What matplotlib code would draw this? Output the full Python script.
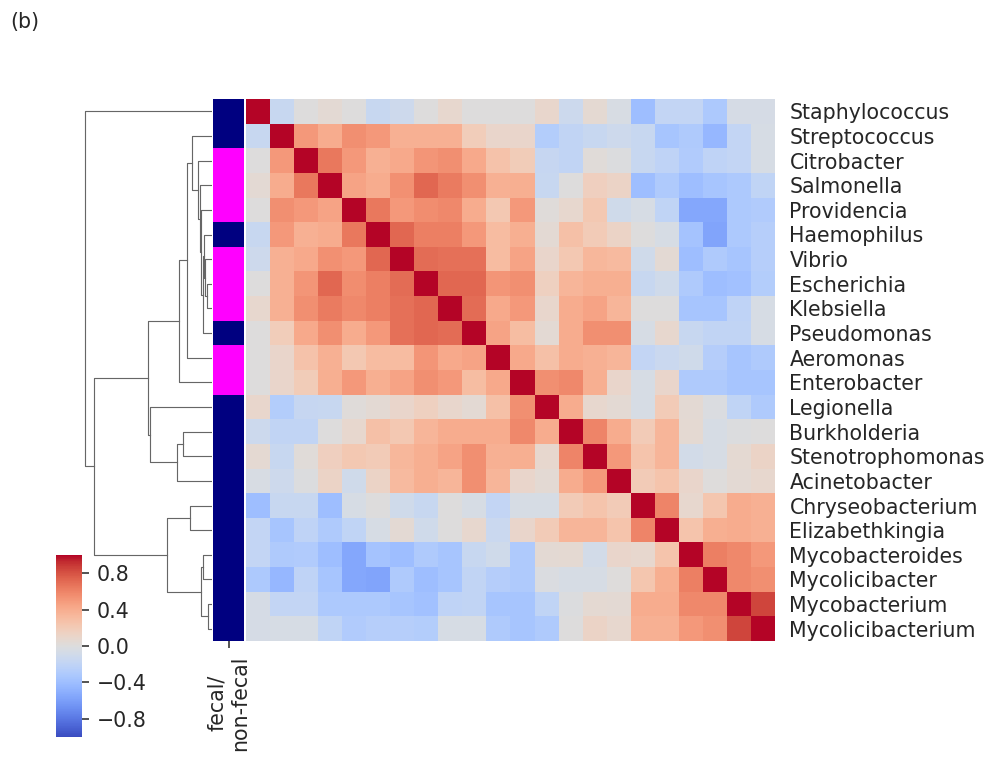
import numpy as np
import matplotlib
matplotlib.use('Agg')
from matplotlib import pyplot as plt
from matplotlib.colors import ListedColormap

genera = ['Staphylococcus', 'Streptococcus', 'Citrobacter', 'Salmonella',
          'Providencia', 'Haemophilus', 'Vibrio', 'Escherichia', 'Klebsiella',
          'Pseudomonas', 'Aeromonas', 'Enterobacter', 'Legionella',
          'Burkholderia', 'Stenotrophomonas', 'Acinetobacter',
          'Chryseobacterium', 'Elizabethkingia', 'Mycobacteroides',
          'Mycolicibacter', 'Mycobacterium', 'Mycolicibacterium']

# 1 = fecal, 0 = non-fecal
fecal = [0, 0, 1, 1, 1, 0, 1, 1, 1, 0, 1, 1, 0, 0, 0, 0, 0, 0, 0, 0, 0, 0]

# correlation matrix, already in clustered order
corr = np.array([
    [1.00, -0.15, 0.00, 0.05, 0.00, -0.15, -0.11, 0.00, 0.08, 0.00, 0.00, 0.00, 0.09, -0.12, 0.06, -0.04, -0.40, -0.18, -0.18, -0.32, -0.06, -0.06],
    [-0.15, 1.00, 0.50, 0.40, 0.55, 0.50, 0.38, 0.38, 0.38, 0.18, 0.10, 0.10, -0.28, -0.19, -0.15, -0.11, -0.15, -0.35, -0.30, -0.45, -0.18, -0.05],
    [0.00, 0.50, 1.00, 0.65, 0.50, 0.38, 0.42, 0.52, 0.55, 0.42, 0.26, 0.19, -0.16, -0.19, 0.03, -0.01, -0.15, -0.21, -0.29, -0.21, -0.18, -0.05],
    [0.05, 0.40, 0.65, 1.00, 0.45, 0.40, 0.54, 0.72, 0.64, 0.55, 0.38, 0.39, -0.15, 0.00, 0.16, 0.12, -0.40, -0.30, -0.40, -0.35, -0.32, -0.20],
    [0.00, 0.55, 0.50, 0.45, 1.00, 0.65, 0.50, 0.56, 0.58, 0.40, 0.22, 0.50, 0.02, 0.08, 0.22, -0.10, -0.05, -0.20, -0.55, -0.55, -0.32, -0.29],
    [-0.15, 0.50, 0.38, 0.40, 0.65, 1.00, 0.72, 0.62, 0.62, 0.50, 0.31, 0.39, 0.05, 0.28, 0.20, 0.12, 0.00, -0.05, -0.36, -0.57, -0.32, -0.26],
    [-0.11, 0.38, 0.42, 0.54, 0.50, 0.72, 1.00, 0.70, 0.68, 0.68, 0.31, 0.45, 0.10, 0.22, 0.34, 0.32, -0.10, 0.05, -0.40, -0.30, -0.35, -0.26],
    [0.00, 0.38, 0.52, 0.72, 0.56, 0.62, 0.70, 1.00, 0.72, 0.72, 0.52, 0.55, 0.15, 0.35, 0.39, 0.39, -0.15, -0.10, -0.30, -0.40, -0.38, -0.28],
    [0.08, 0.38, 0.55, 0.64, 0.58, 0.62, 0.68, 0.72, 1.00, 0.70, 0.42, 0.50, 0.09, 0.40, 0.45, 0.35, 0.00, 0.00, -0.35, -0.35, -0.21, -0.05],
    [0.00, 0.18, 0.42, 0.55, 0.40, 0.50, 0.68, 0.72, 0.70, 1.00, 0.45, 0.30, 0.05, 0.40, 0.55, 0.55, -0.05, 0.08, -0.15, -0.19, -0.19, -0.05],
    [0.00, 0.10, 0.26, 0.38, 0.22, 0.31, 0.31, 0.52, 0.42, 0.45, 1.00, 0.42, 0.28, 0.40, 0.38, 0.35, -0.18, -0.14, -0.10, -0.27, -0.35, -0.30],
    [0.00, 0.10, 0.19, 0.39, 0.50, 0.39, 0.45, 0.55, 0.50, 0.30, 0.42, 1.00, 0.55, 0.58, 0.39, 0.10, -0.05, 0.10, -0.30, -0.30, -0.35, -0.35],
    [0.09, -0.28, -0.16, -0.15, 0.02, 0.05, 0.10, 0.15, 0.09, 0.05, 0.28, 0.55, 1.00, 0.40, 0.08, 0.05, -0.05, 0.20, 0.05, -0.02, -0.20, -0.30],
    [-0.12, -0.19, -0.19, 0.00, 0.08, 0.28, 0.22, 0.35, 0.40, 0.40, 0.40, 0.58, 0.40, 1.00, 0.60, 0.40, 0.20, 0.35, 0.06, -0.05, -0.01, 0.00],
    [0.06, -0.15, 0.03, 0.16, 0.22, 0.20, 0.34, 0.39, 0.45, 0.55, 0.38, 0.39, 0.08, 0.60, 1.00, 0.50, 0.25, 0.35, -0.08, -0.05, 0.06, 0.12],
    [-0.04, -0.11, -0.01, 0.12, -0.10, 0.12, 0.32, 0.39, 0.35, 0.55, 0.35, 0.10, 0.05, 0.40, 0.50, 1.00, 0.20, 0.25, 0.10, 0.01, 0.05, 0.08],
    [-0.40, -0.15, -0.15, -0.40, -0.05, 0.00, -0.10, -0.15, 0.00, -0.05, -0.18, -0.05, -0.05, 0.20, 0.25, 0.20, 1.00, 0.60, 0.08, 0.24, 0.40, 0.38],
    [-0.18, -0.35, -0.21, -0.30, -0.20, -0.05, 0.05, -0.10, 0.00, 0.08, -0.14, 0.10, 0.20, 0.35, 0.35, 0.25, 0.60, 1.00, 0.25, 0.39, 0.40, 0.38],
    [-0.18, -0.30, -0.29, -0.40, -0.55, -0.36, -0.40, -0.30, -0.35, -0.15, -0.10, -0.30, 0.05, 0.06, -0.08, 0.10, 0.08, 0.25, 1.00, 0.62, 0.58, 0.50],
    [-0.32, -0.45, -0.21, -0.35, -0.55, -0.57, -0.30, -0.40, -0.35, -0.19, -0.27, -0.30, -0.02, -0.05, -0.05, 0.01, 0.24, 0.39, 0.62, 1.00, 0.58, 0.55],
    [-0.06, -0.18, -0.18, -0.32, -0.32, -0.32, -0.35, -0.38, -0.21, -0.19, -0.35, -0.35, -0.20, -0.01, 0.06, 0.05, 0.40, 0.40, 0.58, 0.58, 1.00, 0.85],
    [-0.06, -0.05, -0.05, -0.20, -0.29, -0.26, -0.26, -0.28, -0.05, -0.05, -0.30, -0.35, -0.30, 0.00, 0.12, 0.08, 0.38, 0.38, 0.50, 0.55, 0.85, 1.00],
])

# row linkage (scipy style): leaves 0..21, merged clusters numbered from 22
link_left = [7, 6, 5, 24, 4, 3, 2, 1, 29, 30, 13, 32, 12, 31, 16, 18, 20, 37, 36, 35, 0]
link_right = [8, 22, 23, 9, 25, 26, 27, 28, 10, 11, 14, 15, 33, 34, 17, 19, 21, 38, 39, 40, 41]
link_height = [0.053, 0.065, 0.077, 0.093, 0.105, 0.120, 0.137, 0.203, 0.253, 0.327,
               0.287, 0.347, 0.620, 0.637, 0.220, 0.093, 0.037, 0.113, 0.453, 1.180, 1.270]

W, H = 989, 762
S = 1.48  # line / font scale

plt.rcParams['font.size'] = 10 * S
plt.rcParams['text.color'] = '0.15'
plt.rcParams['xtick.labelcolor'] = '0.15'
plt.rcParams['ytick.labelcolor'] = '0.15'
plt.rcParams['xtick.color'] = '0.2'
plt.rcParams['ytick.color'] = '0.2'
plt.rcParams['xtick.major.size'] = 3.5 * S
plt.rcParams['ytick.major.size'] = 3.5 * S
plt.rcParams['xtick.major.width'] = 0.8 * S
plt.rcParams['ytick.major.width'] = 0.8 * S
plt.rcParams['xtick.major.pad'] = 3.5 * S
plt.rcParams['ytick.major.pad'] = 3.5 * S


def px_axes(fig, x0, y0, x1, y1):
    return fig.add_axes([x0 / W, 1 - y1 / H, (x1 - x0) / W, (y1 - y0) / H])


fig = plt.figure(figsize=(W / 100, H / 100), dpi=100)

n = len(genera)

# heatmap
ax_heat = px_axes(fig, 246, 99, 775, 641)
mesh = ax_heat.pcolormesh(corr, cmap='coolwarm', vmin=-1, vmax=1)
ax_heat.set_xlim(0, n)
ax_heat.set_ylim(n, 0)
ax_heat.set_xticks([])
ax_heat.set_yticks(np.arange(n) + 0.5)
ax_heat.set_yticklabels(genera)
ax_heat.yaxis.set_ticks_position('right')
ax_heat.tick_params(axis='y', length=0, pad=7 * S)
for sp in ax_heat.spines.values():
    sp.set_visible(False)

# fecal / non-fecal colour strip
ax_rc = px_axes(fig, 213, 99, 244, 641)
ax_rc.pcolormesh(np.array(fecal)[:, None], cmap=ListedColormap(['#000080', '#ff00ff']),
                 vmin=0, vmax=1)
ax_rc.set_xlim(0, 1)
ax_rc.set_ylim(n, 0)
ax_rc.set_yticks([])
ax_rc.set_xticks([0.5])
ax_rc.set_xticklabels(['fecal/\nnon-fecal'], rotation=90)
for sp in ax_rc.spines.values():
    sp.set_visible(False)

# row dendrogram
ax_den = px_axes(fig, 78.6, 99, 212, 641)
pos = {i: i + 0.5 for i in range(n)}
hgt = {i: 0.0 for i in range(n)}
for k, (a, b, h) in enumerate(zip(link_left, link_right, link_height)):
    ax_den.plot([hgt[a], h, h, hgt[b]], [pos[a], pos[a], pos[b], pos[b]],
                color='0.4', lw=0.55 * S)
    pos[n + k] = (pos[a] + pos[b]) / 2
    hgt[n + k] = h
ax_den.set_xlim(max(link_height) * 1.05, 0)
ax_den.set_ylim(n, 0)
ax_den.axis('off')

# colour bar
ax_cb = px_axes(fig, 56, 555, 82, 737)
cb = fig.colorbar(mesh, cax=ax_cb, ticks=[-0.8, -0.4, 0.0, 0.4, 0.8])
cb.outline.set_linewidth(0)

fig.text(10 / W, 1 - 12 / H, '(b)', ha='left', va='top')

plt.savefig('out.png', dpi=100)
